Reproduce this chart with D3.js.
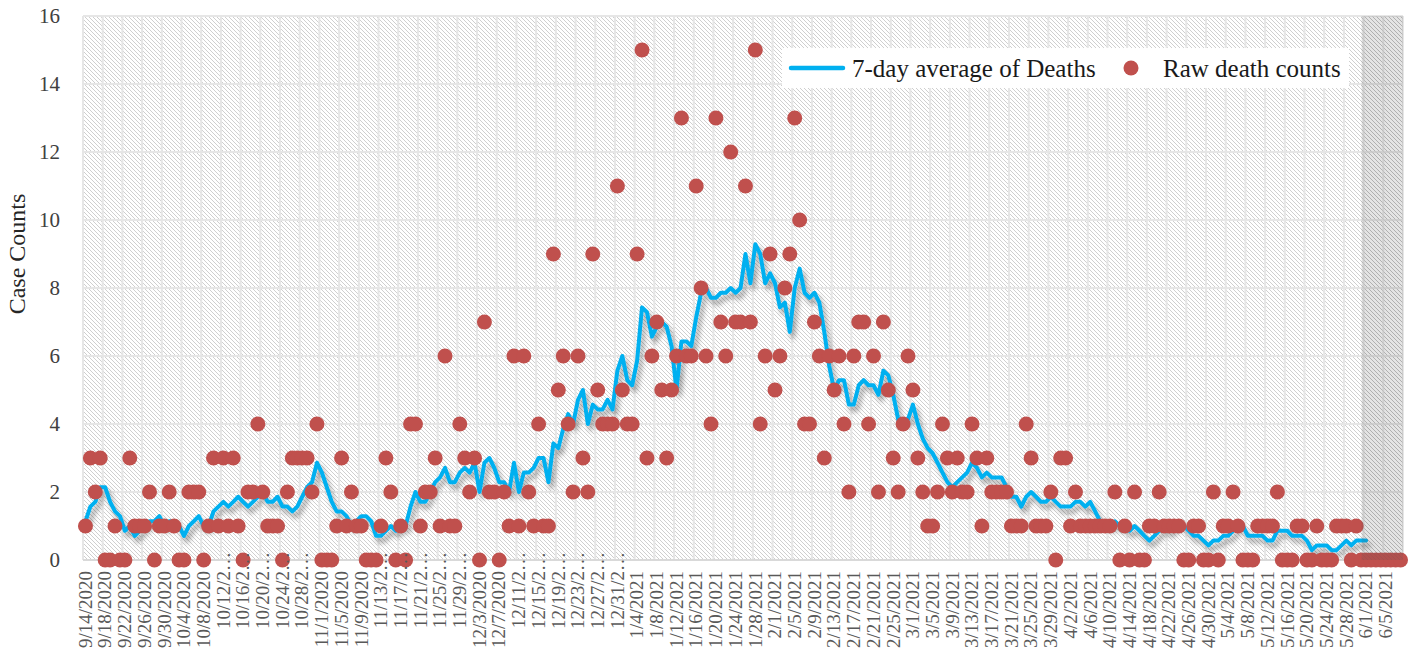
<!DOCTYPE html>
<html><head><meta charset="utf-8">
<script src="https://cdn.jsdelivr.net/npm/d3@7"></script>
<style>
html,body{margin:0;padding:0;background:#fff;}
svg{display:block;}
</style></head><body>
<svg id="chart" width="1415" height="658"></svg>
<script>
// ---------------- data ----------------
const startDate = "2020-09-14";
const shadeFrom = "6/1/2021";

const tickLabels = ["9/14/2020","9/18/2020","9/22/2020","9/26/2020","9/30/2020","10/4/2020","10/8/2020","10/12/2…","10/16/2…","10/20/2…","10/24/2…","10/28/2…","11/1/2020","11/5/2020","11/9/2020","11/13/2…","11/17/2…","11/21/2…","11/25/2…","11/29/2…","12/3/2020","12/7/2020","12/11/2…","12/15/2…","12/19/2…","12/23/2…","12/27/2…","12/31/2…","1/4/2021","1/8/2021","1/12/2021","1/16/2021","1/20/2021","1/24/2021","1/28/2021","2/1/2021","2/5/2021","2/9/2021","2/13/2021","2/17/2021","2/21/2021","2/25/2021","3/1/2021","3/5/2021","3/9/2021","3/13/2021","3/17/2021","3/21/2021","3/25/2021","3/29/2021","4/2/2021","4/6/2021","4/10/2021","4/14/2021","4/18/2021","4/22/2021","4/26/2021","4/30/2021","5/4/2021","5/8/2021","5/12/2021","5/16/2021","5/20/2021","5/24/2021","5/28/2021","6/1/2021","6/5/2021"];

const rawDeaths = [
1,3,2,3,0,0,1,0,0,3,
1,1,1,2,0,1,1,2,1,0,
0,2,2,2,0,1,3,1,3,1,
3,1,0,2,2,4,2,1,1,1,
0,2,3,3,3,3,2,4,0,0,
0,1,3,1,2,1,1,0,0,0,
1,3,2,0,1,0,4,4,1,2,
2,3,1,6,1,1,4,3,2,3,
0,7,2,2,0,2,1,6,1,6,
2,1,4,1,1,9,5,6,4,2,
6,3,2,9,5,4,4,4,11,5,
4,4,9,15,3,6,7,5,3,5,
6,13,6,6,11,8,6,4,13,7,
6,12,7,7,11,7,15,4,6,9,
5,6,8,9,13,10,4,4,7,6,
3,6,5,6,4,2,6,7,7,4,
6,2,7,5,3,2,4,6,5,3,
2,1,1,2,4,3,2,3,2,2,
4,3,1,3,2,2,2,2,1,1,
1,4,3,1,1,1,2,0,3,3,
1,2,1,1,1,1,1,1,1,2,
0,1,0,2,0,0,1,1,2,1,
1,1,1,0,0,1,1,0,0,2,
0,1,1,2,1,0,0,0,1,1,
1,1,2,0,0,0,1,1,0,0,
1,0,0,0,1,1,1,0,1,0,
0,0,0,0,0,0,0,0];

const avgDeaths = [
1.14,1.57,1.71,2.14,2.14,1.71,1.43,1.29,0.86,1.00,
0.71,0.86,1.00,1.14,1.14,1.29,1.00,1.14,1.14,1.00,
0.71,1.00,1.14,1.29,1.00,1.00,1.43,1.57,1.71,1.57,
1.71,1.86,1.71,1.57,1.71,1.86,2.00,1.71,1.71,1.86,
1.57,1.57,1.43,1.57,1.86,2.14,2.29,2.86,2.57,2.14,
1.71,1.43,1.43,1.29,1.00,1.14,1.29,1.29,1.14,0.71,
0.71,0.86,1.00,0.86,1.00,1.00,1.57,2.00,1.71,1.71,
2.00,2.29,2.43,2.71,2.29,2.29,2.57,2.71,2.57,2.86,
2.00,2.86,3.00,2.71,2.29,2.29,2.00,2.86,2.00,2.57,
2.57,2.71,3.00,3.00,2.29,3.43,3.29,3.86,4.29,4.00,
4.71,5.00,4.00,4.57,4.43,4.43,4.71,4.43,5.57,6.00,
5.29,5.14,5.86,7.43,7.29,6.57,6.86,7.00,6.86,6.29,
5.00,6.43,6.43,6.29,7.14,7.86,8.00,7.71,7.71,7.86,
7.86,8.00,7.86,8.00,9.00,8.14,9.29,9.00,8.14,8.43,
8.14,7.43,7.57,6.71,8.00,8.57,7.86,7.71,7.86,7.57,
6.71,5.71,5.00,5.29,5.29,4.57,4.57,5.14,5.29,5.14,
5.14,4.86,5.57,5.43,4.86,4.14,4.14,4.14,4.57,4.00,
3.57,3.29,3.14,2.86,2.57,2.29,2.14,2.29,2.43,2.57,
2.86,2.71,2.43,2.57,2.43,2.43,2.43,2.14,1.86,1.86,
1.57,1.86,2.00,1.86,1.71,1.71,1.86,1.71,1.57,1.57,
1.57,1.71,1.71,1.57,1.71,1.43,1.14,1.14,1.00,1.14,
1.00,1.00,0.86,1.00,0.86,0.71,0.57,0.71,0.86,1.00,
0.86,1.00,1.14,1.00,0.86,0.71,0.71,0.57,0.43,0.57,
0.57,0.71,0.71,0.86,1.00,1.00,0.71,0.71,0.71,0.71,
0.57,0.57,0.86,0.86,0.86,0.71,0.71,0.71,0.57,0.29,
0.43,0.43,0.43,0.29,0.29,0.43,0.57,0.43,0.57,0.57,
0.57];

const yTicks = [0,2,4,6,8,10,12,14,16];
const seriesNames = ["7-day average of Deaths", "Raw death counts"];
const yTitle = "Case Counts";

// ---------------- setup ----------------
const plot = {left: 83, right: 1403, top: 16, bottom: 560};
const fmt = d3.timeFormat("%-m/%-d/%Y");
const start = d3.timeParse("%Y-%m-%d")(startDate);
const categories = d3.timeDay.range(start, d3.timeDay.offset(start, rawDeaths.length)).map(fmt);

const x = d3.scaleBand().domain(categories).range([plot.left, plot.right]).padding(0);
const y = d3.scaleLinear().domain([0, 16]).range([plot.bottom, plot.top]);
const cx = d => x(d) + x.bandwidth() / 2;

const svg = d3.select("#chart");
const defs = svg.append("defs");
const hatch = defs.append("pattern").attr("id", "hatch").attr("patternUnits", "userSpaceOnUse")
  .attr("width", 4).attr("height", 4);
hatch.append("rect").attr("width", 4).attr("height", 4).attr("fill", "#ffffff");
hatch.append("path").attr("d", "M-1,-1 L5,5 M3,-1 L5,1 M-1,3 L1,5")
  .attr("stroke", "#cfcfcf").attr("stroke-width", 1);

const hatch2 = defs.append("pattern").attr("id", "hatch2").attr("patternUnits", "userSpaceOnUse")
  .attr("width", 4).attr("height", 4);
hatch2.append("rect").attr("width", 4).attr("height", 4).attr("fill", "rgba(90,90,90,0.16)");
hatch2.append("path").attr("d", "M-1,-1 L5,5 M3,-1 L5,1 M-1,3 L1,5")
  .attr("stroke", "rgba(70,70,70,0.10)").attr("stroke-width", 1);

const sh = defs.append("filter").attr("id", "shadow").attr("x", "-5%").attr("y", "-20%").attr("width", "110%").attr("height", "140%");
sh.append("feDropShadow").attr("dx", 3).attr("dy", 5).attr("stdDeviation", 2.5)
  .attr("flood-color", "#000").attr("flood-opacity", 0.35);

// background hatch
svg.append("rect").attr("x", plot.left).attr("y", plot.top)
  .attr("width", plot.right - plot.left).attr("height", plot.bottom - plot.top)
  .attr("fill", "url(#hatch)");

// gridlines
const grid = svg.append("g").attr("stroke", "#e6e6e6").attr("stroke-width", 2);
grid.selectAll("line.h").data(yTicks.filter(v => v > 0)).join("line")
  .attr("x1", plot.left).attr("x2", plot.right)
  .attr("y1", d => y(d)).attr("y2", d => y(d));
const vBounds = categories.filter((c, i) => i % 4 === 0).map(c => x(c)).concat([plot.right]);
grid.selectAll("line.v").data(vBounds).join("line")
  .attr("x1", d => d).attr("x2", d => d)
  .attr("y1", plot.top).attr("y2", plot.bottom);

// baseline
svg.append("line").attr("x1", plot.left).attr("x2", plot.right)
  .attr("y1", y(0)).attr("y2", y(0)).attr("stroke", "#d9d9d9").attr("stroke-width", 2);

// 7-day average line
const lineGen = d3.line().x((d, i) => cx(categories[i])).y(d => y(d)).curve(d3.curveLinear);
svg.append("path").datum(avgDeaths).attr("d", lineGen)
  .attr("fill", "none").attr("stroke", "#00B0F0").attr("stroke-width", 4)
  .attr("stroke-linejoin", "round").attr("stroke-linecap", "round")
  .attr("filter", "url(#shadow)");

// raw dots
svg.append("g").selectAll("circle").data(rawDeaths).join("circle")
  .attr("cx", (d, i) => cx(categories[i])).attr("cy", d => y(d)).attr("r", 7.5)
  .attr("fill", "#C0504D");

// shaded final period
svg.append("rect").attr("x", x(shadeFrom) - 2).attr("y", plot.top)
  .attr("width", plot.right - x(shadeFrom) + 2).attr("height", plot.bottom - plot.top)
  .attr("fill", "url(#hatch2)");

// y axis
const yAxis = svg.append("g").attr("transform", `translate(${plot.left},0)`)
  .call(d3.axisLeft(y).tickValues(yTicks).tickSize(0).tickPadding(23));
yAxis.select(".domain").remove();
yAxis.selectAll("text").attr("font-family", "'Liberation Serif', serif")
  .attr("font-size", 21).attr("fill", "#404040");

svg.append("text").attr("transform", `translate(25,254) rotate(-90)`)
  .attr("text-anchor", "middle").attr("font-family", "'Liberation Serif', serif")
  .attr("font-size", 24).attr("fill", "#262626").text(yTitle);

// x axis
const tickCats = categories.filter((c, i) => i % 4 === 0);
const labelOf = new Map(tickCats.map((c, i) => [c, tickLabels[i]]));
const xAxis = svg.append("g").attr("transform", `translate(0,${plot.bottom})`)
  .call(d3.axisBottom(x).tickValues(tickCats).tickFormat(c => labelOf.get(c)).tickSize(0));
xAxis.select(".domain").remove();
xAxis.selectAll("text")
  .attr("font-family", "'Liberation Serif', serif").attr("font-size", 19).attr("fill", "#595959")
  .attr("transform", "rotate(-90)").attr("text-anchor", "end")
  .attr("y", 0).attr("dy", "0.33em")
  .attr("x", d => labelOf.get(d).endsWith("…") ? 8 : -11);

// legend
const lg = svg.append("g");
lg.append("rect").attr("x", 782).attr("y", 48).attr("width", 567).attr("height", 40).attr("fill", "#ffffff");
lg.append("line").attr("x1", 791).attr("x2", 843).attr("y1", 68).attr("y2", 68)
  .attr("stroke", "#00B0F0").attr("stroke-width", 4.5).attr("stroke-linecap", "round");
lg.append("text").attr("x", 852).attr("y", 77).attr("font-family", "'Liberation Serif', serif")
  .attr("font-size", 25).attr("fill", "#1a1a1a").text(seriesNames[0]);
lg.append("circle").attr("cx", 1131).attr("cy", 68).attr("r", 7.5).attr("fill", "#C0504D");
lg.append("text").attr("x", 1163).attr("y", 77).attr("font-family", "'Liberation Serif', serif")
  .attr("font-size", 25).attr("fill", "#1a1a1a").text(seriesNames[1]);
</script>
</body></html>
